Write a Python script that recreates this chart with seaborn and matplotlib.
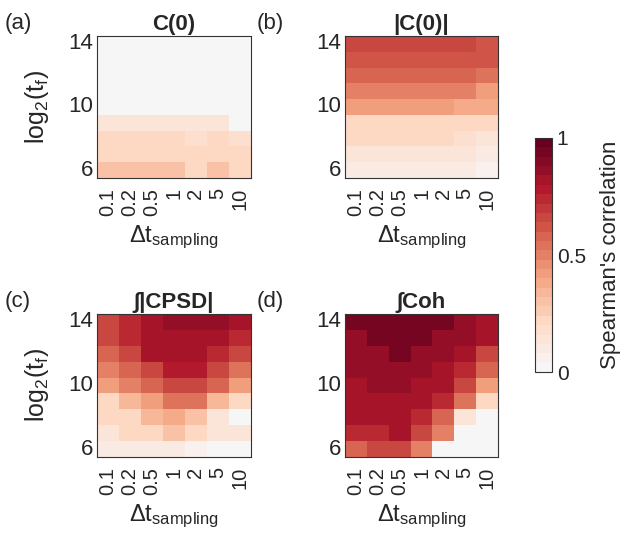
import matplotlib
matplotlib.use("Agg")
import matplotlib.pyplot as plt
import numpy as np
import pandas as pd
import seaborn as sns
from matplotlib.colors import ListedColormap

# axes categories
dt_sampling = ['0.1', '0.2', '0.5', '1', '2', '5', '10']
log2_tf = [14, 13, 12, 11, 10, 9, 8, 7, 6]  # top row first

# Spearman's correlation, rows = log2_tf (14 -> 6), cols = dt_sampling
c0 = [
    [0.00, 0.00, 0.00, 0.00, 0.00, 0.00, 0.00],
    [0.00, 0.00, 0.00, 0.00, 0.00, 0.00, 0.00],
    [0.00, 0.00, 0.00, 0.00, 0.00, 0.00, 0.00],
    [0.00, 0.00, 0.00, 0.00, 0.00, 0.00, 0.00],
    [0.00, 0.00, 0.00, 0.00, 0.00, 0.00, 0.00],
    [0.12, 0.12, 0.12, 0.12, 0.12, 0.12, 0.00],
    [0.20, 0.20, 0.20, 0.20, 0.16, 0.20, 0.16],
    [0.20, 0.20, 0.20, 0.20, 0.20, 0.20, 0.20],
    [0.28, 0.28, 0.28, 0.28, 0.20, 0.28, 0.20],
]
abs_c0 = [
    [0.66, 0.66, 0.66, 0.66, 0.66, 0.66, 0.60],
    [0.60, 0.60, 0.60, 0.60, 0.60, 0.60, 0.60],
    [0.57, 0.57, 0.57, 0.57, 0.57, 0.57, 0.53],
    [0.50, 0.50, 0.50, 0.50, 0.50, 0.50, 0.40],
    [0.40, 0.40, 0.40, 0.40, 0.40, 0.37, 0.37],
    [0.20, 0.20, 0.20, 0.20, 0.20, 0.20, 0.20],
    [0.20, 0.20, 0.20, 0.20, 0.20, 0.16, 0.12],
    [0.14, 0.14, 0.14, 0.14, 0.14, 0.14, 0.10],
    [0.10, 0.10, 0.10, 0.10, 0.10, 0.10, 0.07],
]
cpsd = [
    [0.66, 0.74, 0.80, 0.86, 0.86, 0.86, 0.80],
    [0.66, 0.74, 0.80, 0.80, 0.80, 0.80, 0.74],
    [0.58, 0.66, 0.80, 0.80, 0.80, 0.74, 0.66],
    [0.50, 0.57, 0.66, 0.76, 0.76, 0.66, 0.55],
    [0.40, 0.50, 0.57, 0.66, 0.66, 0.58, 0.40],
    [0.20, 0.32, 0.40, 0.53, 0.53, 0.32, 0.20],
    [0.20, 0.20, 0.32, 0.38, 0.28, 0.12, 0.00],
    [0.14, 0.20, 0.20, 0.28, 0.20, 0.12, 0.12],
    [0.10, 0.10, 0.10, 0.10, 0.07, 0.00, 0.00],
]
coh = [
    [0.92, 0.92, 0.92, 0.92, 0.92, 0.86, 0.80],
    [0.86, 0.92, 0.92, 0.92, 0.86, 0.86, 0.80],
    [0.86, 0.86, 0.92, 0.86, 0.86, 0.80, 0.66],
    [0.86, 0.86, 0.86, 0.86, 0.80, 0.74, 0.58],
    [0.80, 0.86, 0.86, 0.80, 0.80, 0.66, 0.40],
    [0.80, 0.80, 0.80, 0.80, 0.74, 0.53, 0.20],
    [0.80, 0.80, 0.80, 0.74, 0.57, 0.15, 0.00],
    [0.74, 0.74, 0.80, 0.66, 0.50, 0.00, 0.00],
    [0.58, 0.66, 0.66, 0.50, 0.00, 0.00, 0.00],
]

panels = [
    ('(a)', 'C(0)', c0),
    ('(b)', '|C(0)|', abs_c0),
    ('(c)', '\u222b|CPSD|', cpsd),
    ('(d)', '\u222bCoh', coh),
]

sns.set_style('white')
plt.rcParams['font.family'] = ['Liberation Sans', 'DejaVu Sans']
plt.rcParams['mathtext.default'] = 'regular'

# upper half of RdBu_r, in discrete steps
n_levels = 25
base = plt.get_cmap('RdBu_r')
cmap = ListedColormap([base(0.5 + 0.5 * i / (n_levels - 1)) for i in range(n_levels)])

fig = plt.figure(figsize=(6.24, 5.5), dpi=100)
positions = [
    [0.1554, 0.6764, 0.2468, 0.2582],
    [0.5529, 0.6764, 0.2452, 0.2582],
    [0.1554, 0.1691, 0.2468, 0.2600],
    [0.5529, 0.1691, 0.2452, 0.2600],
]
label_xy = [(0.008, 0.958), (0.412, 0.958), (0.008, 0.452), (0.412, 0.452)]

for i, (tag, title, vals) in enumerate(panels):
    ax = fig.add_axes(positions[i])
    df = pd.DataFrame(vals, index=log2_tf, columns=dt_sampling)
    sns.heatmap(df, ax=ax, cmap=cmap, vmin=0, vmax=1, cbar=False)
    ytick_vals = [14, 10, 6]
    ax.set_yticks([log2_tf.index(v) + 0.5 for v in ytick_vals])
    ax.set_yticklabels([str(v) for v in ytick_vals], rotation=0, fontsize=16)
    ax.set_xticks(np.arange(len(dt_sampling)) + 0.5)
    ax.set_xticklabels(dt_sampling, rotation=90, fontsize=14.5)
    ax.tick_params(direction='in', top=True, right=True, length=3, width=0.6,
                   color='#333333', pad=3)
    ax.tick_params(axis='x', pad=7)
    for s in ax.spines.values():
        s.set_visible(True)
        s.set_color('#333333')
        s.set_linewidth(0.8)
    ax.set_title(title, fontsize=16, fontweight='bold', pad=4)
    ax.set_xlabel(r'$\Delta$t$_{sampling}$', fontsize=17, labelpad=6)
    if i % 2 == 0:
        ax.set_ylabel(r'log$_2$(t$_f$)', fontsize=18, labelpad=12)
    else:
        ax.set_ylabel('')
    fig.text(label_xy[i][0], label_xy[i][1], tag, fontsize=16, va='center')

cax = fig.add_axes([0.8574, 0.3236, 0.0272, 0.4255])
cb = fig.colorbar(ax.collections[0], cax=cax, ticks=[0, 0.5, 1])
cb.ax.set_yticklabels(['0', '0.5', '1'], fontsize=15)
cb.ax.tick_params(direction='in', length=3, width=0.6, color='#333333')
cb.outline.set_edgecolor('#333333')
cb.outline.set_linewidth(0.8)
cb.set_label("Spearman's correlation", fontsize=16, labelpad=10)

fig.savefig('out.png', dpi=100)
